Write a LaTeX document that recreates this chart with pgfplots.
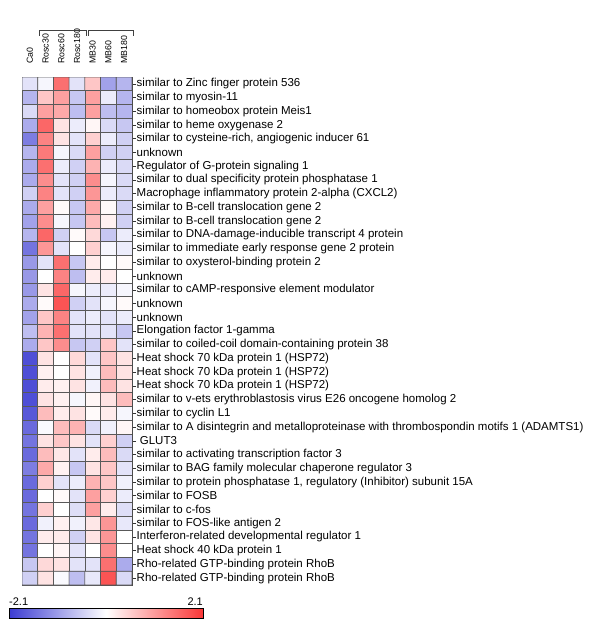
\documentclass[border=0pt]{standalone}
\usepackage{pgfplots}
\usepackage{pgfplotstable}
\pgfplotsset{compat=1.18}
\usepackage{fontspec}
\setmainfont{Liberation Sans}
\pgfplotstableread{
x y c
0 0 -0.3
1 0 -0.1
2 0 1.5
3 0 -0.3
4 0 0.6
5 0 -1.0
6 0 -0.8
0 1 -0.8
1 1 0.6
2 1 1.0
3 1 -0.6
4 1 1.0
5 1 -0.2
6 1 -0.8
0 2 -0.4
1 2 1.0
2 2 0.9
3 2 -0.7
4 2 1.0
5 2 -0.7
6 2 -0.8
0 3 -0.9
1 3 1.6
2 3 0.3
3 3 -0.2
4 3 0.1
5 3 -0.4
6 3 -0.6
0 4 -1.4
1 4 1.3
2 4 0.3
3 4 -0.3
4 4 0.5
5 4 -0.2
6 4 -0.5
0 5 -0.8
1 5 1.4
2 5 -0.1
3 5 -0.4
4 5 1.0
5 5 -0.5
6 5 -0.5
0 6 -0.9
1 6 1.5
2 6 -0.2
3 6 -0.5
4 6 0.8
5 6 -0.2
6 6 -0.4
0 7 -0.9
1 7 1.2
2 7 -0.3
3 7 -0.5
4 7 1.2
5 7 -0.1
6 7 -0.4
0 8 -0.5
1 8 1.3
2 8 -0.3
3 8 -0.5
4 8 1.1
5 8 -0.2
6 8 -0.4
0 9 -0.9
1 9 1.0
2 9 0.05
3 9 -0.6
4 9 0.9
5 9 0.05
6 9 -0.5
0 10 -1.0
1 10 1.2
2 10 -0.1
3 10 -0.6
4 10 0.7
5 10 0.15
6 10 -0.5
0 11 -0.8
1 11 1.6
2 11 -0.5
3 11 0.05
4 11 0.4
5 11 -0.6
6 11 -0.2
0 12 -1.5
1 12 1.1
2 12 -0.3
3 12 0.0
4 12 0.5
5 12 -0.1
6 12 -0.2
0 13 -1.1
1 13 -0.3
2 13 1.5
3 13 -0.6
4 13 0.2
5 13 0.0
6 13 0.05
0 14 -1.1
1 14 0.0
2 14 1.3
3 14 -0.7
4 14 0.2
5 14 0.2
6 14 0.0
0 15 -1.1
1 15 0.3
2 15 1.6
3 15 -0.1
4 15 -0.2
5 15 -0.2
6 15 -0.1
0 16 -0.9
1 16 0.05
2 16 1.8
3 16 -0.5
4 16 -0.3
5 16 -0.1
6 16 0.05
0 17 -1.0
1 17 0.6
2 17 1.3
3 17 -0.3
4 17 -0.2
5 17 -0.3
6 17 -0.2
0 18 -0.7
1 18 0.8
2 18 1.5
3 18 -0.3
4 18 -0.3
5 18 -0.3
6 18 -0.6
0 19 -0.9
1 19 0.6
2 19 1.2
3 19 -0.6
4 19 -0.5
5 19 0.6
6 19 -0.3
0 20 -1.9
1 20 0.3
2 20 0.0
3 20 0.4
4 20 -0.3
5 20 0.6
6 20 0.3
0 21 -1.9
1 21 0.15
2 21 0.0
3 21 0.3
4 21 -0.15
5 21 0.7
6 21 0.3
0 22 -1.9
1 22 0.2
2 22 0.15
3 22 0.3
4 22 -0.15
5 22 0.7
6 22 0.3
0 23 -1.9
1 23 0.3
2 23 0.15
3 23 -0.1
4 23 0.1
5 23 0.3
6 23 0.7
0 24 -1.8
1 24 0.7
2 24 0.2
3 24 0.3
4 24 0.05
5 24 0.2
6 24 -0.1
0 25 -1.6
1 25 -0.05
2 25 0.7
3 25 0.8
4 25 -0.4
5 25 -0.15
6 25 0.1
0 26 -1.5
1 26 0.3
2 26 0.6
3 26 0.3
4 26 -0.3
5 26 0.5
6 26 -0.5
0 27 -1.6
1 27 0.7
2 27 0.25
3 27 -0.3
4 27 0.2
5 27 0.7
6 27 -0.4
0 28 -1.4
1 28 0.9
2 28 0.15
3 28 -0.6
4 28 0.3
5 28 0.6
6 28 -0.3
0 29 -1.6
1 29 0.5
2 29 -0.3
3 29 -0.2
4 29 0.8
5 29 0.6
6 29 -0.15
0 30 -1.6
1 30 0.0
2 30 0.05
3 30 -0.3
4 30 1.0
5 30 0.5
6 30 -0.2
0 31 -1.5
1 31 0.5
2 31 0.0
3 31 -0.35
4 31 1.0
5 31 0.2
6 31 -0.35
0 32 -1.6
1 32 -0.15
2 32 0.15
3 32 -0.15
4 32 0.25
5 32 1.1
6 32 -0.25
0 33 -1.5
1 33 0.2
2 33 0.2
3 33 -0.5
4 33 0.3
5 33 1.1
6 33 0.0
0 34 -1.5
1 34 0.0
2 34 0.1
3 34 -0.3
4 34 0.0
5 34 1.2
6 34 0.0
0 35 -0.6
1 35 0.4
2 35 0.3
3 35 -0.3
4 35 -0.3
5 35 1.5
6 35 -0.9
0 36 -0.5
1 36 0.3
2 36 -0.05
3 36 -0.7
4 36 -0.25
5 36 1.8
6 36 -0.4
}\heat
\begin{document}
\begin{tikzpicture}
\path[use as bounding box] (0,0) rectangle (600bp,630bp);
\begin{axis}[
  at={(22bp,45bp)}, anchor=south west,
  scale only axis, width=110bp, height=508bp,
  xmin=-0.5, xmax=6.5, ymin=-0.5, ymax=36.5,
  y dir=reverse,
  enlargelimits=false,
  colormap={hm}{rgb255(0cm)=(60,60,210); rgb255(1cm)=(255,255,255); rgb255(2cm)=(250,55,55)},
  point meta min=-2.1, point meta max=2.1,
  xtick={0,...,6},
  xticklabels={Ca0,Rosc30,Rosc60,Rosc180,MB30,MB60,MB180},
  xticklabel pos=upper,
  x tick style={draw=none},
  xticklabel shift={9bp},
  xticklabel style={rotate=90, anchor=west, font=\fontsize{8.8bp}{9bp}\selectfont, inner sep=0pt},
  ytick={0,...,36},
  yticklabels={
    similar to Zinc finger protein 536,
    similar to myosin-11,
    similar to homeobox protein Meis1,
    similar to heme oxygenase 2,
    {similar to cysteine-rich, angiogenic inducer 61},
    unknown,
    Regulator of G-protein signaling 1,
    similar to dual specificity protein phosphatase 1,
    Macrophage inflammatory protein 2-alpha (CXCL2),
    similar to B-cell translocation gene 2,
    similar to B-cell translocation gene 2,
    similar to DNA-damage-inducible transcript 4 protein,
    similar to immediate early response gene 2 protein,
    similar to oxysterol-binding protein 2,
    unknown,
    similar to cAMP-responsive element modulator,
    unknown,
    unknown,
    Elongation factor 1-gamma,
    similar to coiled-coil domain-containing protein 38,
    Heat shock 70 kDa protein 1 (HSP72),
    Heat shock 70 kDa protein 1 (HSP72),
    Heat shock 70 kDa protein 1 (HSP72),
    similar to v-ets erythroblastosis virus E26 oncogene homolog 2,
    similar to cyclin L1,
    similar to A disintegrin and metalloproteinase with thrombospondin motifs 1 (ADAMTS1),
    \ GLUT3,
    similar to activating transcription factor 3,
    similar to BAG family molecular chaperone regulator 3,
    {similar to protein phosphatase 1, regulatory (Inhibitor) subunit 15A},
    similar to FOSB,
    similar to c-fos,
    similar to FOS-like antigen 2,
    Interferon-related developmental regulator 1,
    Heat shock 40 kDa protein 1,
    Rho-related GTP-binding protein RhoB,
    Rho-related GTP-binding protein RhoB},
  yticklabel pos=right,
  ytick pos=right,
  y tick style={draw=black!80, line width=0.6bp},
  tick align=outside,
  major tick length=4bp,
  yticklabel style={font=\fontsize{11.5bp}{12bp}\selectfont, inner sep=0.5bp, anchor=west},
  axis line style={draw=black!70, line width=0.7bp},
  colorbar horizontal,
  colorbar style={
    at={(parent axis.south west)}, anchor=south west,
    xshift=-13bp, yshift=-25bp,
    scale only axis, width=194bp, height=10bp,
    xtick=\empty, ytick=\empty,
    axis line style={draw=black, line width=0.7bp},
  },
]
\addplot[matrix plot*, mesh/cols=7, point meta=explicit, draw=black!65, line width=0.7bp]
  table[x=x, y=y, meta=c] {\heat};
\end{axis}
\draw[black!75, line width=0.8bp] (39.5bp,594bp) -- (39.5bp,600bp) -- (86bp,600bp) -- (86bp,594bp);
\draw[black!75, line width=0.8bp] (88.5bp,594bp) -- (88.5bp,600bp) -- (133bp,600bp) -- (133bp,594bp);
\node[anchor=base west, inner sep=0pt, font=\fontsize{11bp}{12bp}\selectfont] at (9bp,24.5bp) {-2.1};
\node[anchor=base east, inner sep=0pt, font=\fontsize{11bp}{12bp}\selectfont] at (203bp,24.5bp) {2.1};
\end{tikzpicture}
\end{document}
